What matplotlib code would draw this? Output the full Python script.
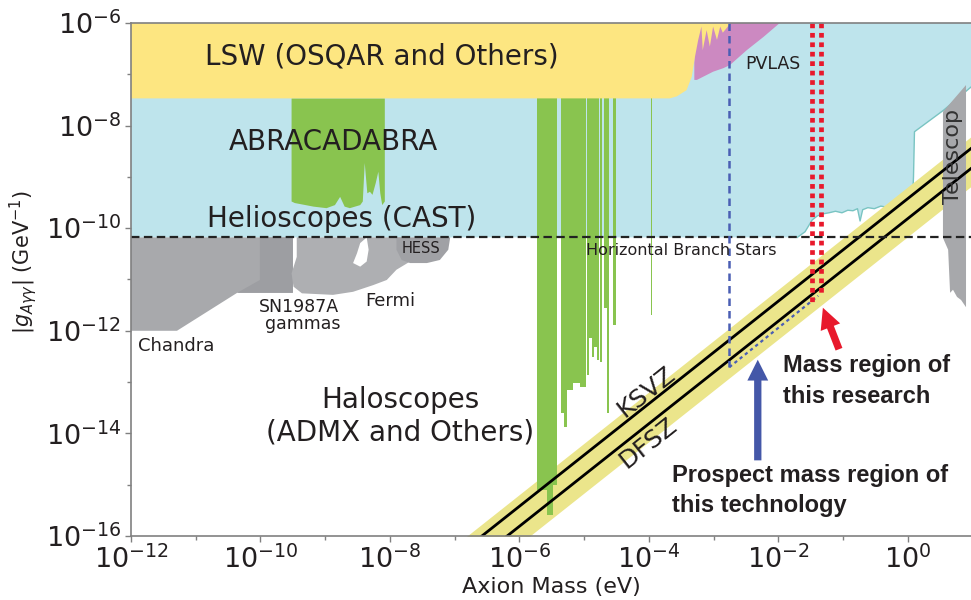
import matplotlib
matplotlib.use("Agg")
import matplotlib.pyplot as plt
from matplotlib.ticker import NullFormatter

# all region outlines are stored as log10(mass / eV) and log10(g / GeV^-1)
cast_limit = 6.6e-11

lsw_logm = [-12, -12, -3.68, -3.57, -3.42, -3.34, -3.29, -3.24, -3.19, -3.17,
            -3.11, -3.06, -3.01, -2.95, -2.90, -2.86, -2.75, -2.75]
lsw_logg = [-6.0, -7.47, -7.47, -7.43, -7.31, -7.05, -6.66, -6.33, -6.07, -6.53,
            -6.14, -6.46, -6.07, -6.33, -6.07, -6.19, -6.02, -6.0]

pvlas_logm = [-3.30, -3.26, -3.01, -2.85, -2.75, -2.49, -2.23, -1.98, -3.30]
pvlas_logg = [-7.11, -7.11, -6.95, -6.88, -6.82, -6.53, -6.27, -6.0, -6.0]

helio_logm = [-12, -12, -1.71, -1.59, -1.48, -1.40, -1.31, -1.22, -1.12, -1.02,
              -0.93, -0.85, -0.78, -0.74, -0.70, -0.62, -0.52, -0.42, -0.33,
              -0.24, -0.15, -0.06, 0.03, 0.07, 0.085, 0.10, 0.55, 1.0, 1.0]
helio_logg = [-6.0, -10.18, -10.18, -10.07, -9.84, -9.76, -9.72, -9.70, -9.67,
              -9.70, -9.65, -9.66, -9.62, -9.86, -9.64, -9.60, -9.62, -9.57,
              -9.59, -9.54, -9.58, -9.50, -9.53, -9.45, -9.0, -8.12, -7.70,
              -7.22, -6.0]

abra_logm = [-9.52, -9.52, -9.47, -9.18, -8.98, -8.85, -8.77, -8.70, -8.62,
             -8.46, -8.42, -8.39, -8.35, -8.31, -8.27, -8.22, -8.18, -8.15,
             -8.12, -8.08, -8.08]
abra_logg = [-7.47, -9.48, -9.51, -9.58, -9.61, -9.55, -9.39, -9.58, -9.61,
             -9.55, -9.48, -8.73, -9.32, -9.29, -9.35, -9.12, -8.90, -9.32,
             -9.55, -9.48, -7.47]

# haloscope scans: left edge, right edge, lowest coupling reached
halo_left = [-5.73, -5.575, -5.49, -5.36, -5.31, -5.27, -5.17, -5.07, -4.96,
             -4.92, -4.88, -4.85, -4.81, -4.75, -4.69, -4.65, -4.56, -3.975]
halo_right = [-5.575, -5.49, -5.42, -5.31, -5.27, -5.17, -5.07, -4.97, -4.92,
              -4.88, -4.85, -4.81, -4.77, -4.72, -4.65, -4.61, -4.51, -3.955]
halo_floor = [-15.10, -15.59, -15.01, -13.60, -13.88, -13.15, -13.02, -13.10,
              -12.86, -12.14, -12.51, -12.32, -12.57, -12.60, -11.56, -13.60,
              -11.89, -11.69]

chandra_logm = [-12, -12, -11.29, -10.36, -9.5, -9.5]
chandra_logg = [-10.18, -12.0, -12.0, -11.26, -11.26, -10.18]

sn_logm = [-10.01, -10.01, -10.36, -9.5, -9.5]
sn_logg = [-10.18, -11.01, -11.26, -11.26, -10.18]

fermi_logm = [-9.44, -9.44, -9.52, -9.49, -9.36, -8.88, -8.57, -8.26, -8.05,
              -7.90, -7.69, -7.69]
fermi_logg = [-10.18, -10.56, -10.88, -11.14, -11.27, -11.30, -11.24, -11.11,
              -11.01, -10.81, -10.65, -10.18]

fermi_gap_logm = [-8.57, -8.46, -8.36, -8.33, -8.36, -8.46, -8.51]
fermi_gap_logg = [-10.68, -10.75, -10.65, -10.42, -10.18, -10.29, -10.49]

hess_logm = [-7.90, -7.90, -7.82, -7.69, -7.43, -7.23, -7.10, -7.07]
hess_logg = [-10.18, -10.42, -10.62, -10.68, -10.68, -10.62, -10.42, -10.18]

telescope_logm = [0.54, 0.54, 0.62, 0.65, 0.695, 0.757, 0.82, 0.896, 0.896]
telescope_logg = [-7.73, -10.19, -10.42, -11.26, -11.20, -11.34, -11.40, -11.54, -7.21]

# QCD axion models, g = coef * m
ksvz_coef = 10 ** -9.42
dfsz_coef = 10 ** -9.81
band_hi_coef = 10 ** -9.19
band_lo_coef = 10 ** -10.16
model_m = [1e-8, 10]

research_m = [0.0326, 0.0447]
research_floor = [10 ** -11.43, 10 ** -11.26]

prospect_m = [1.74e-3, 1.74e-3]
prospect_g = [1e-6, 1.95e-13]
prospect_diag_m = [1.74e-3, 0.041]
prospect_diag_g = [1.95e-13, 4.8e-12]

xticks = [1e-12, 1e-10, 1e-8, 1e-6, 1e-4, 1e-2, 1]
xminor = [1e-11, 1e-9, 1e-7, 1e-5, 1e-3, 1e-1, 10]
yticks = [1e-16, 1e-14, 1e-12, 1e-10, 1e-8, 1e-6]
yminor = [1e-15, 1e-13, 1e-11, 1e-9, 1e-7]


def patch(ax, logm, logg, **kw):
    ax.fill([10 ** v for v in logm], [10 ** v for v in logg], lw=0, **kw)


fig = plt.figure(figsize=(9.71, 6.0), dpi=100)
ax = fig.add_axes([0.1349, 0.1067, 0.8669, 0.855])
ax.set_xscale("log")
ax.set_yscale("log")
ax.set_xlim(1e-12, 10)
ax.set_ylim(1e-16, 1e-6)

txt = "#231f20"
green = "#89c44f"

patch(ax, helio_logm, helio_logg, color="#bee4ec", zorder=1)
ax.plot([10 ** v for v in helio_logm[2:-1]], [10 ** v for v in helio_logg[2:-1]],
        color="#79c4c2", lw=1.0, zorder=1.1)

patch(ax, chandra_logm, chandra_logg, color="#a8a9ac", zorder=2)
patch(ax, sn_logm, sn_logg, color="#9d9ea2", zorder=2.1)
patch(ax, fermi_logm, fermi_logg, color="#aeafb2", zorder=2.2)
patch(ax, fermi_gap_logm, fermi_gap_logg, color="white", zorder=2.3)
patch(ax, hess_logm, hess_logg, color="#a0a1a5", zorder=2.4)

# KSVZ-DFSZ band
band_x = model_m
ax.fill_between(band_x, [band_lo_coef * m for m in band_x],
                [band_hi_coef * m for m in band_x], color="#ebe58b", lw=0, zorder=3)

patch(ax, abra_logm, abra_logg, color=green, zorder=4)
for l, r, f in zip(halo_left, halo_right, halo_floor):
    ax.bar(10 ** l, 1e-6 - 10 ** f, width=10 ** r - 10 ** l, bottom=10 ** f,
           align="edge", color=green, lw=0, zorder=4)

patch(ax, pvlas_logm, pvlas_logg, color="#cc89c1", zorder=5)
patch(ax, lsw_logm, lsw_logg, color="#fde681", zorder=5.1)
patch(ax, telescope_logm, telescope_logg, color="#a7a8ab", zorder=5.2)

ax.plot(model_m, [ksvz_coef * m for m in model_m], color="black", lw=2, zorder=6)
ax.plot(model_m, [dfsz_coef * m for m in model_m], color="black", lw=2, zorder=6)

ax.axhline(cast_limit, color="#222222", lw=1.6, ls=(0, (3.8, 2)), zorder=7)

ax.plot(prospect_m, prospect_g, color="#4a5eb4", lw=1.8, ls=(0, (3, 2)), zorder=7)
ax.plot(prospect_diag_m, prospect_diag_g, color="#4a5eb4", lw=1.6,
        ls=(0, (1.5, 1.5)), zorder=7)
for m, f in zip(research_m, research_floor):
    ax.plot([m, m], [1e-6, f], color="#e8192c", lw=3.4, ls=(0, (1, 1)), zorder=8)

arrow_kw = dict(arrowstyle="simple,head_width=1.0,head_length=1.0,tail_width=0.35",
                mutation_scale=15, lw=0)
ax.annotate("", xy=(10 ** -1.33, 10 ** -11.50), xytext=(10 ** -1.05, 10 ** -12.41),
            arrowprops=dict(color="#e8192c", **arrow_kw), zorder=9)
ax.annotate("", xy=(10 ** -2.32, 10 ** -12.51), xytext=(10 ** -2.32, 10 ** -14.58),
            arrowprops=dict(color="#4457a8", **arrow_kw), zorder=9)

labels = [
    ("LSW (OSQAR and Others)", -10.857, -6.80, 20),
    ("ABRACADABRA", -10.482, -8.476, 20),
    ("Helioscopes (CAST)", -10.826, -9.971, 20),
    ("Chandra", -11.89, -12.39, 13),
    ("Fermi", -8.386, -11.52, 13),
    ("HESS", -7.82, -10.48, 10.5),
    ("Horizontal Branch Stars", -4.973, -10.52, 11.5),
    ("PVLAS", -2.517, -6.90, 12.5),
]
for s, lx, ly, fs in labels:
    ax.text(10 ** lx, 10 ** ly, s, fontsize=fs, color=txt, ha="left",
            va="baseline", zorder=10)
ax.text(10 ** -7.846, 10 ** -13.51, "Haloscopes", fontsize=20, color=txt,
        ha="center", va="baseline", zorder=10)
ax.text(10 ** -7.846, 10 ** -14.13, "(ADMX and Others)", fontsize=20, color=txt,
        ha="center", va="baseline", zorder=10)
ax.text(10 ** -9.405, 10 ** -11.63, "SN1987A", fontsize=12.5, color=txt,
        ha="center", va="baseline", zorder=10)
ax.text(10 ** -9.35, 10 ** -11.97, "gammas", fontsize=12.5, color=txt,
        ha="center", va="baseline", zorder=10)
ax.text(10 ** 0.695, 10 ** -8.61, "Telescop", fontsize=16, color="#333333",
        rotation=90, ha="center", va="center", zorder=10)
ax.text(10 ** -4.036, 10 ** -13.19, "KSVZ", fontsize=18, color=txt,
        rotation=38.4, ha="center", va="center", zorder=10)
ax.text(10 ** -4.015, 10 ** -14.19, "DFSZ", fontsize=18, color=txt,
        rotation=38.4, ha="center", va="center", zorder=10)

bold = dict(fontsize=17, fontweight="bold", family="Liberation Sans",
            color=txt, ha="left", va="baseline", zorder=10)
ax.text(10 ** -1.926, 10 ** -12.80, "Mass region of", **bold)
ax.text(10 ** -1.926, 10 ** -13.41, "this research", **bold)
ax.text(10 ** -3.65, 10 ** -14.94, "Prospect mass region of", **bold)
ax.text(10 ** -3.65, 10 ** -15.53, "this technology", **bold)

ax.set_xticks(xticks)
ax.set_xticks(xminor, minor=True)
ax.set_yticks(yticks)
ax.set_yticks(yminor, minor=True)
ax.xaxis.set_minor_formatter(NullFormatter())
ax.yaxis.set_minor_formatter(NullFormatter())
ax.tick_params(which="both", direction="out", color="#808080", width=1)
ax.tick_params(which="major", length=4, pad=3, labelsize=19.5, labelcolor=txt)
ax.tick_params(which="minor", length=3)
for side in ("left", "bottom", "top"):
    ax.spines[side].set_color("#808080")
    ax.spines[side].set_linewidth(1.2)
    ax.spines[side].set_zorder(11)
ax.spines["right"].set_visible(False)

ax.set_xlabel("Axion Mass (eV)", fontsize=16, color=txt, labelpad=2)
ax.set_ylabel(r"$|g_{A\gamma\gamma}|$ (GeV$^{-1}$)", fontsize=15, color=txt)
ax.yaxis.set_label_coords(-0.109, 0.534)

fig.savefig("out.png", dpi=100)
